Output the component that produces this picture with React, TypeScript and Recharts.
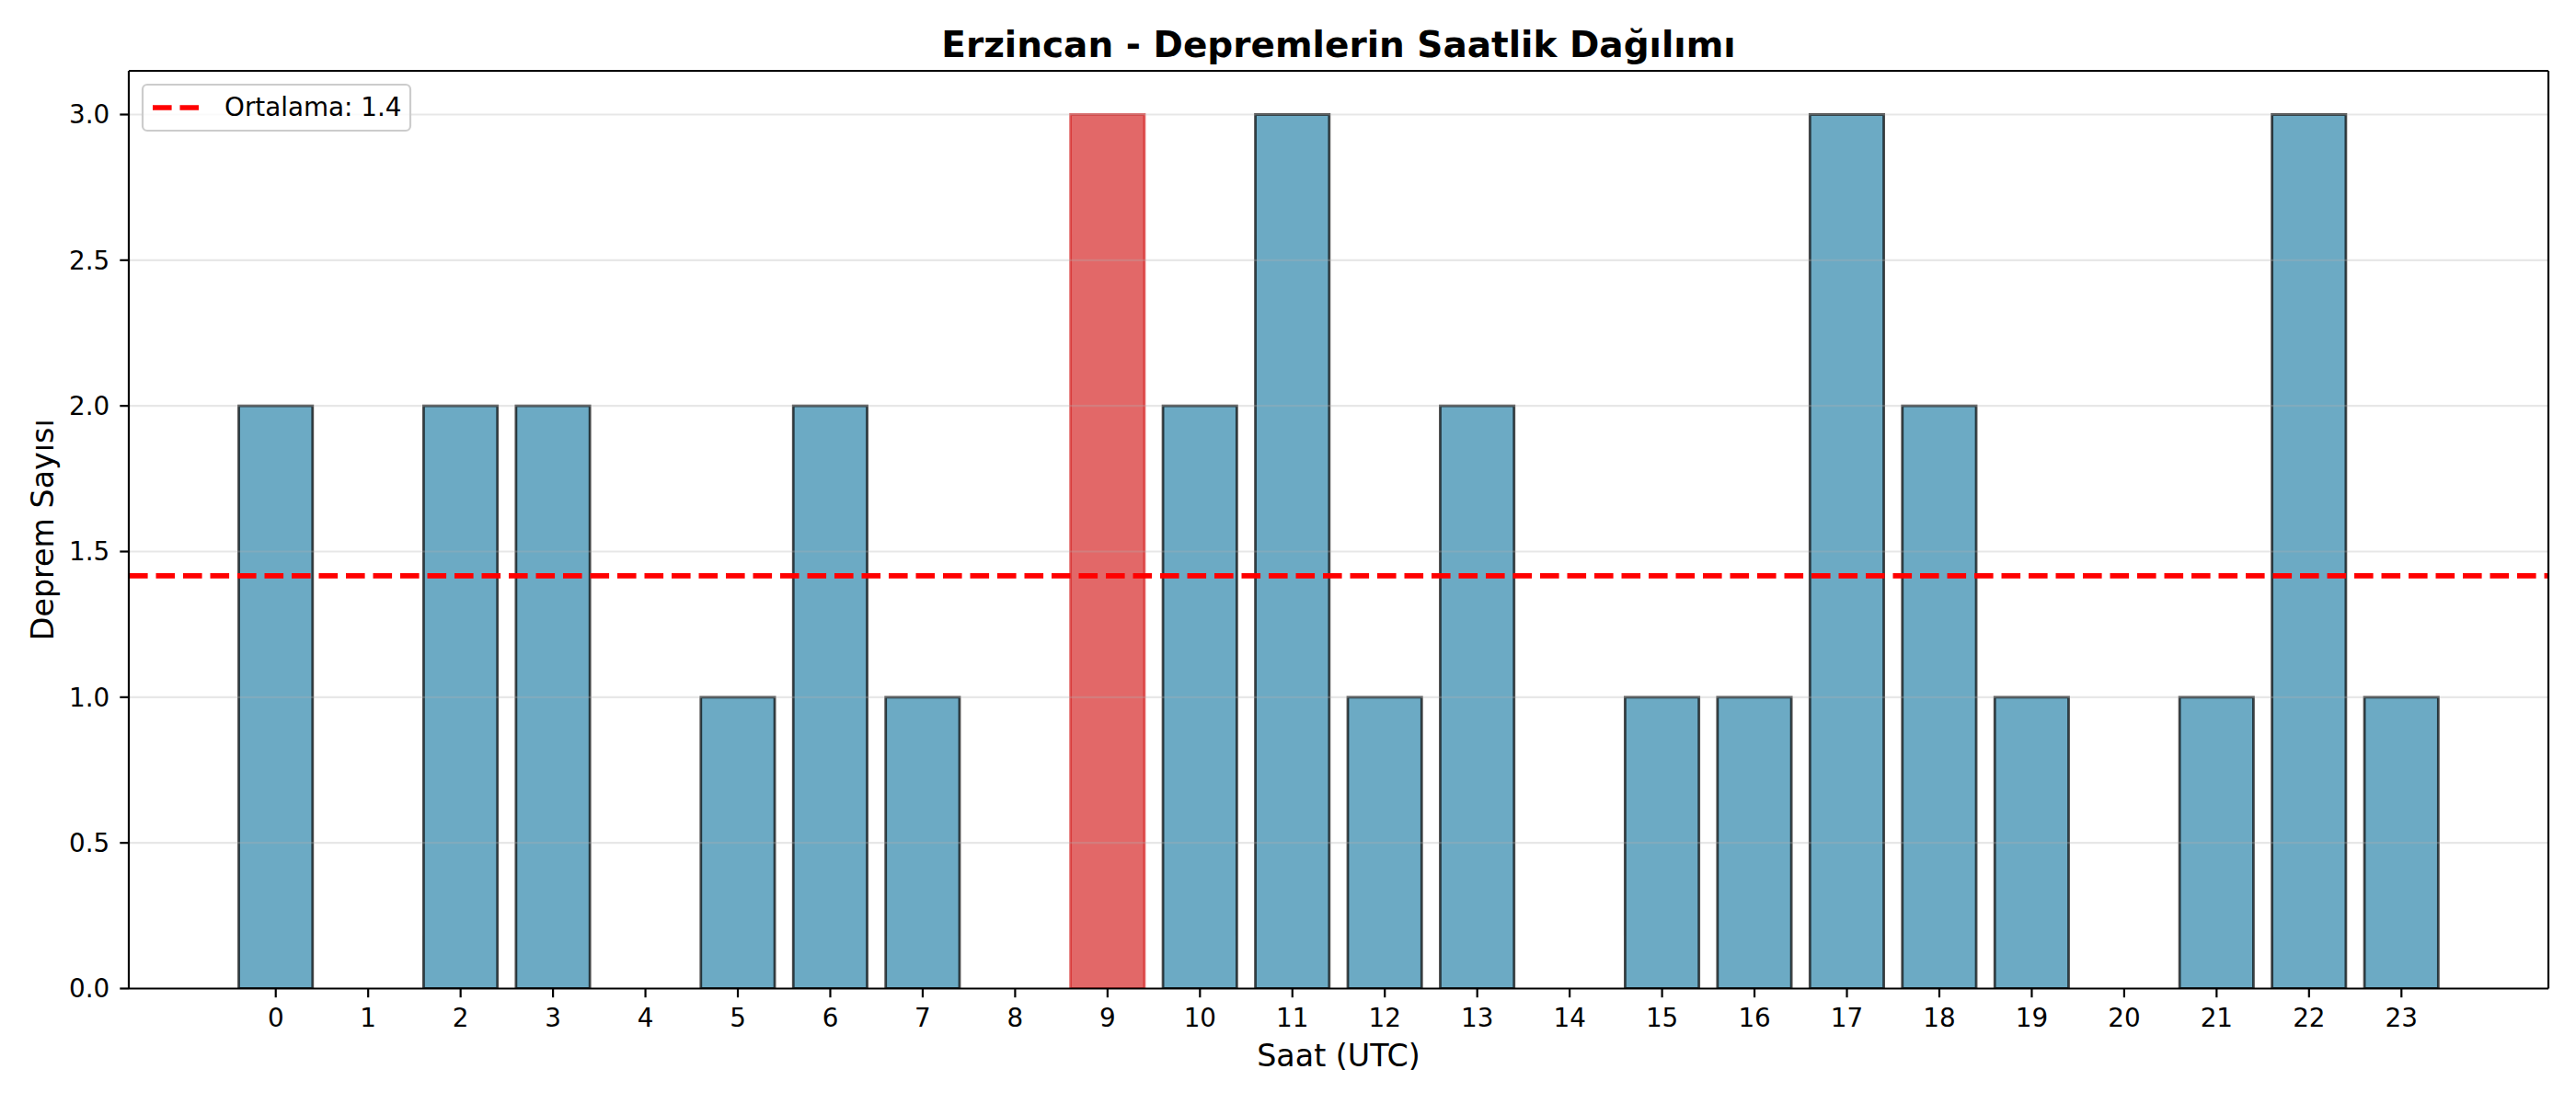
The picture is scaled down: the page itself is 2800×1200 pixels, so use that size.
import React from "react";
import {
  BarChart,
  Bar,
  Cell,
  XAxis,
  YAxis,
  ReferenceLine,
} from "recharts";

// hourly earthquake counts
const HOURS = [0, 1, 2, 3, 4, 5, 6, 7, 8, 9, 10, 11, 12, 13, 14, 15, 16, 17, 18, 19, 20, 21, 22, 23];
const COUNTS = [2, 0, 2, 2, 0, 1, 2, 1, 0, 3, 2, 3, 1, 2, 0, 1, 1, 3, 2, 1, 0, 1, 3, 1];
const MEAN = 1.4167;
const Y_TICKS = [0, 0.5, 1, 1.5, 2, 2.5, 3];
const X_DOMAIN = [-1.59, 24.59];
const Y_DOMAIN = [0, 3.15];

const TITLE = "Erzincan - Depremlerin Saatlik Dağılımı";
const X_LABEL = "Saat (UTC)";
const Y_LABEL = "Deprem Sayısı";
const LEGEND_LABEL = "Ortalama: 1.4";

const BAR_COLOR = "#2E86AB";
const PEAK_COLOR = "#d62828";
const FONT = "DejaVu Sans, sans-serif";

const data = HOURS.map((h, i) => ({ hour: h, count: COUNTS[i] }));
const peakIndex = COUNTS.indexOf(Math.max(...COUNTS));

export default function App() {
  return (
    <div style={{ position: "absolute", left: 0, top: 0, width: 2800, height: 1200, background: "#fff" }}>
      <BarChart
        width={2800}
        height={1200}
        data={data}
        margin={{ top: 77, right: 30, bottom: 0, left: 0 }}
        style={{ fontFamily: FONT }}
      >
        <XAxis
          dataKey="hour"
          type="number"
          domain={X_DOMAIN}
          ticks={HOURS}
          interval={0}
          allowDataOverflow
          height={125.5}
          tickSize={9.7}
          tickMargin={12.5}
          tick={{ fontSize: 27.8, fill: "#000" }}
          stroke="#000"
          axisLine={{ stroke: "#000", strokeWidth: 2.2 }}
          tickLine={{ stroke: "#000", strokeWidth: 2.2 }}
          label={{ value: X_LABEL, position: "insideBottom", offset: 41, fontSize: 33.3, fill: "#000" }}
        />
        <YAxis
          type="number"
          domain={Y_DOMAIN}
          ticks={Y_TICKS}
          allowDataOverflow
          width={140}
          tickSize={9.7}
          tickMargin={11}
          tickFormatter={(v: number) => v.toFixed(1)}
          tick={{ fontSize: 27.8, fill: "#000" }}
          stroke="#000"
          axisLine={{ stroke: "#000", strokeWidth: 2.2 }}
          tickLine={{ stroke: "#000", strokeWidth: 2.2 }}
          label={{
            value: Y_LABEL,
            angle: -90,
            position: "insideLeft",
            offset: 46,
            fontSize: 33.3,
            fill: "#000",
            style: { textAnchor: "middle" },
          }}
        />
        <Bar dataKey="count" barSize={80.3} isAnimationActive={false} strokeWidth={2.8}>
          {data.map((_, i) => (
            <Cell
              key={`bar-${i}`}
              fill={i === peakIndex ? PEAK_COLOR : BAR_COLOR}
              fillOpacity={0.7}
              stroke={i === peakIndex ? PEAK_COLOR : "#000"}
              strokeOpacity={0.7}
            />
          ))}
        </Bar>
        {Y_TICKS.slice(1).map((t) => (
          <ReferenceLine key={`grid-${t}`} y={t} stroke="#b0b0b0" strokeOpacity={0.3} strokeWidth={2.2} />
        ))}
        <ReferenceLine y={MEAN} stroke="#ff0000" strokeWidth={5.6} strokeDasharray="20.6 8.9" />
        <ReferenceLine y={Y_DOMAIN[1]} stroke="#000" strokeWidth={2.2} />
        <ReferenceLine x={X_DOMAIN[1]} stroke="#000" strokeWidth={2.2} />
      </BarChart>

      {/* title and legend overlay */}
      <svg
        width={2800}
        height={1200}
        style={{ position: "absolute", left: 0, top: 0, pointerEvents: "none", fontFamily: FONT }}
      >
        <text x={1455} y={62} textAnchor="middle" fontSize={39} fontWeight="bold" fill="#000">
          {TITLE}
        </text>
        <rect x={155} y={92} width={291} height={50} rx={5} fill="#fff" fillOpacity={0.8} stroke="#cccccc" strokeWidth={2.2} />
        <line x1={166} y1={117} x2={216} y2={117} stroke="#ff0000" strokeWidth={5.6} strokeDasharray="20.6 8.9" />
        <text x={244} y={126} fontSize={27.8} fill="#000">
          {LEGEND_LABEL}
        </text>
      </svg>
    </div>
  );
}
